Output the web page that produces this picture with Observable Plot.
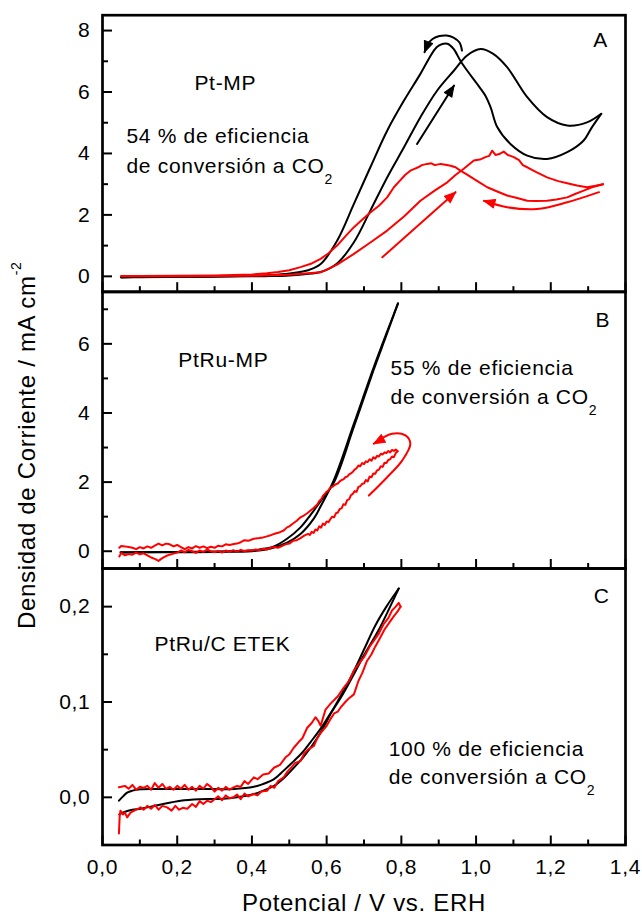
<!DOCTYPE html>
<html><head><meta charset="utf-8">
<script src="https://cdn.jsdelivr.net/npm/d3@7"></script>
<script src="https://cdn.jsdelivr.net/npm/@observablehq/plot@0.6"></script>
<style>
html,body{margin:0;padding:0;background:#fff;}
#chart{position:relative;width:642px;height:917px;overflow:hidden;background:#fff;}
#chart svg{position:absolute;left:0;top:0;background:transparent !important;font-family:'Liberation Sans',Arial,Helvetica,sans-serif;font-size:21px;color:#000;}
#chart svg text{letter-spacing:0.7px;}
</style></head><body><div id="chart"></div>
<script>
// ---------- axis ticks ----------
const xMajor = [0, 0.2, 0.4, 0.6, 0.8, 1.0, 1.2, 1.4];
const xMinor = [0.1, 0.3, 0.5, 0.7, 0.9, 1.1, 1.3];
const yMajorA = [0, 2, 4, 6, 8], yMinorA = [1, 3, 5, 7];
const yMajorB = [0, 2, 4, 6], yMinorB = [1, 3, 5, 7];
const yMajorC = [0, 0.1, 0.2], yMinorC = [0.05, 0.15];
const xLabel = "Potencial / V vs. ERH";
const yLabel = "Densidad de Corriente / mA cm-2";

// ---------- Panel A: Pt-MP (potential V, current mA cm-2) ----------
const blackA_forward = [[0.05,-0.04],[0.1,-0.03],[0.2,-0.02],[0.3,-0.01],[0.4,0.0],[0.45,0.01],[0.5,0.03],[0.54,0.07],[0.584,0.14],[0.628,0.42],[0.673,1.11],[0.717,2.14],[0.762,3.22],[0.807,4.20],[0.851,5.18],[0.896,6.05],[0.941,6.70],[0.976,7.19],[1.012,7.40],[1.045,7.25],[1.083,6.81],[1.137,5.83],[1.19,5.18],[1.244,4.91],[1.297,5.01],[1.335,5.29]];
const blackA_reverse = [[1.335,5.29],[1.31,4.85],[1.288,4.42],[1.244,4.04],[1.19,3.82],[1.137,3.93],[1.092,4.31],[1.057,4.85],[1.039,5.50],[1.025,5.88],[1.003,6.26],[0.976,6.70],[0.958,7.02],[0.94,7.40],[0.923,7.57],[0.90,7.51],[0.887,7.35],[0.851,6.59],[0.807,5.72],[0.762,4.74],[0.717,3.55],[0.673,2.36],[0.628,1.16],[0.584,0.40],[0.55,0.2],[0.5,0.09],[0.45,0.04],[0.4,0.02],[0.3,0.0],[0.2,-0.01],[0.1,-0.02],[0.05,-0.03]];
const redA_forward = [[0.05,0.0],[0.2,0.0],[0.3,0.01],[0.4,0.02],[0.5,0.05],[0.584,0.13],[0.628,0.38],[0.673,0.73],[0.717,1.1],[0.762,1.49],[0.807,1.95],[0.851,2.46],[0.89,2.8],[0.923,3.06],[0.945,3.3],[0.967,3.5],[0.985,3.68],[0.994,3.77],[1.01,3.8],[1.025,3.88],[1.035,3.92],[1.043,4.09],[1.052,3.95],[1.062,3.98],[1.074,4.06],[1.085,3.95],[1.101,3.88],[1.115,3.78],[1.125,3.62],[1.137,3.55],[1.16,3.4],[1.19,3.22],[1.22,3.1],[1.244,3.03],[1.27,2.96],[1.297,2.9],[1.32,2.95],[1.34,3.0]];
const redA_reverse = [[1.34,3.0],[1.31,2.9],[1.288,2.79],[1.265,2.68],[1.244,2.57],[1.215,2.5],[1.19,2.46],[1.16,2.45],[1.137,2.46],[1.11,2.55],[1.083,2.63],[1.055,2.77],[1.03,2.9],[1.01,3.05],[0.994,3.17],[0.975,3.32],[0.958,3.44],[0.945,3.55],[0.932,3.6],[0.918,3.63],[0.905,3.66],[0.89,3.62],[0.88,3.68],[0.869,3.66],[0.855,3.62],[0.845,3.55],[0.835,3.5],[0.824,3.44],[0.81,3.3],[0.795,3.1],[0.78,2.9],[0.762,2.57],[0.74,2.3],[0.717,2.08],[0.695,1.84],[0.673,1.6],[0.65,1.3],[0.628,1.0],[0.605,0.75],[0.584,0.57],[0.56,0.42],[0.53,0.3],[0.5,0.2],[0.47,0.14],[0.44,0.1],[0.4,0.06],[0.3,0.03],[0.2,0.02],[0.1,0.01],[0.05,0.01]];
const arrowsA = [
  {color: "#000", path: [[0.842,4.31],[0.941,6.21]]},
  {color: "#000", path: [[0.9623,7.349],[0.9557,7.61],[0.9396,7.773],[0.9208,7.838],[0.9021,7.822],[0.8834,7.724],[0.870,7.545],[0.862,7.294]]},
  {color: "#ff0000", path: [[0.749,0.62],[0.945,2.74]]},
  {color: "#ff0000", path: [[1.329,2.74],[1.244,2.41],[1.163,2.19],[1.083,2.25],[1.021,2.46]]}
];
const textsA = [
  {v: 0.246, j: 6.05, t: "Pt-MP"},
  {v: 0.064, j: 4.35, t: "54 % de eficiencia"},
  {v: 0.064, j: 3.37, t: "de conversión a CO2"},
  {v: 1.314, j: 7.48, t: "A"}
];

// ---------- Panel B: PtRu-MP ----------
const blackB_forward = [[0.05,-0.04],[0.1,-0.03],[0.2,-0.03],[0.3,-0.02],[0.4,0.0],[0.45,0.08],[0.494,0.25],[0.53,0.5],[0.566,0.95],[0.584,1.3],[0.619,2.05],[0.673,3.69],[0.726,5.32],[0.76,6.3],[0.791,7.17]];
const blackB_reverse = [[0.791,7.17],[0.76,6.25],[0.726,5.25],[0.673,3.6],[0.619,1.98],[0.584,1.45],[0.557,1.05],[0.53,0.69],[0.494,0.36],[0.459,0.14],[0.42,0.05],[0.396,0.02],[0.3,-0.01],[0.2,-0.02],[0.1,-0.03],[0.048,-0.03]];
const redB_forward = [[0.045,-0.15],[0.05,-0.05],[0.06,-0.12],[0.07,-0.08],[0.08,-0.1],[0.09,-0.04],[0.1,-0.09],[0.11,-0.06],[0.12,-0.12],[0.13,-0.18],[0.14,-0.22],[0.15,-0.28],[0.16,-0.2],[0.17,-0.14],[0.18,-0.1],[0.19,-0.07],[0.2,-0.04],[0.21,0.02],[0.22,-0.03],[0.23,0.04],[0.24,0.0],[0.25,-0.05],[0.26,0.02],[0.27,-0.02],[0.28,0.05],[0.29,0.0],[0.3,-0.03],[0.31,0.01],[0.32,-0.04],[0.33,0.02],[0.34,-0.02],[0.35,0.03],[0.36,-0.01],[0.37,0.04],[0.38,0.0],[0.39,0.03],[0.4,0.02],[0.41,0.05],[0.42,0.03],[0.43,0.07],[0.44,0.05],[0.45,0.1],[0.46,0.12],[0.47,0.1],[0.48,0.15],[0.49,0.2],[0.5,0.22],[0.51,0.3],[0.52,0.32],[0.53,0.38],[0.54,0.45],[0.55,0.5],[0.555,0.47],[0.56,0.56],[0.565,0.53],[0.57,0.63],[0.575,0.6],[0.58,0.72],[0.585,0.68],[0.59,0.8],[0.595,0.76],[0.6,0.86],[0.605,0.84],[0.61,0.93],[0.615,1.0],[0.62,0.98],[0.625,1.1],[0.63,1.12],[0.635,1.22],[0.64,1.24],[0.645,1.36],[0.65,1.34],[0.655,1.48],[0.66,1.5],[0.665,1.62],[0.67,1.66],[0.675,1.74],[0.68,1.72],[0.685,1.86],[0.69,1.88],[0.695,1.95],[0.7,1.96],[0.705,2.06],[0.71,2.02],[0.715,2.16],[0.72,2.14],[0.725,2.25],[0.73,2.24],[0.735,2.34],[0.74,2.36],[0.745,2.46],[0.75,2.44],[0.755,2.56],[0.76,2.55],[0.765,2.64],[0.77,2.66],[0.775,2.74],[0.78,2.72],[0.785,2.84],[0.79,2.89]];
const redB_reverse = [[0.79,2.89],[0.785,2.94],[0.78,2.9],[0.775,2.93],[0.77,2.86],[0.765,2.9],[0.76,2.84],[0.755,2.86],[0.75,2.8],[0.745,2.82],[0.74,2.74],[0.735,2.76],[0.73,2.68],[0.725,2.72],[0.72,2.62],[0.715,2.66],[0.71,2.58],[0.705,2.6],[0.7,2.52],[0.695,2.55],[0.69,2.46],[0.685,2.48],[0.68,2.4],[0.675,2.36],[0.67,2.3],[0.665,2.25],[0.66,2.22],[0.655,2.16],[0.65,2.14],[0.645,2.08],[0.64,2.06],[0.635,2.02],[0.63,1.96],[0.625,1.94],[0.62,1.9],[0.615,1.86],[0.61,1.84],[0.605,1.76],[0.6,1.72],[0.595,1.66],[0.59,1.6],[0.585,1.5],[0.58,1.45],[0.575,1.35],[0.565,1.25],[0.557,1.18],[0.548,1.1],[0.54,1.04],[0.53,0.98],[0.52,0.88],[0.51,0.8],[0.5,0.72],[0.494,0.69],[0.485,0.6],[0.475,0.55],[0.465,0.52],[0.459,0.5],[0.45,0.46],[0.44,0.43],[0.43,0.4],[0.42,0.38],[0.405,0.36],[0.39,0.3],[0.38,0.32],[0.37,0.26],[0.36,0.22],[0.352,0.21],[0.34,0.18],[0.33,0.2],[0.32,0.14],[0.31,0.16],[0.3,0.1],[0.29,0.13],[0.28,0.09],[0.27,0.14],[0.26,0.1],[0.25,0.15],[0.24,0.08],[0.23,0.12],[0.22,0.06],[0.21,0.12],[0.2,0.18],[0.19,0.14],[0.18,0.2],[0.17,0.22],[0.16,0.17],[0.15,0.22],[0.14,0.16],[0.13,0.1],[0.12,0.14],[0.11,0.08],[0.1,0.12],[0.09,0.06],[0.08,0.1],[0.07,0.12],[0.06,0.14],[0.05,0.15],[0.045,0.1]];
const arrowsB = [
  {color: "#ff0000", path: [[0.713,1.61],[0.762,2.14],[0.802,2.62],[0.824,3.11],[0.811,3.35],[0.775,3.40],[0.726,3.11]]}
];
const textsB = [
  {v: 0.203, j: 5.34, t: "PtRu-MP"},
  {v: 0.771, j: 5.11, t: "55 % de eficiencia"},
  {v: 0.771, j: 4.26, t: "de conversión a CO2"},
  {v: 1.32, j: 6.48, t: "B"}
];

// ---------- Panel C: PtRu/C ETEK ----------
const blackC_forward = [[0.045,-0.018],[0.057,-0.0157],[0.08,-0.013],[0.102,-0.012],[0.15,-0.008],[0.209,-0.0035],[0.26,-0.002],[0.316,-0.0017],[0.36,0.0],[0.405,0.0035],[0.43,0.007],[0.459,0.012],[0.485,0.02],[0.512,0.031],[0.535,0.041],[0.557,0.052],[0.584,0.068],[0.61,0.087],[0.637,0.106],[0.67,0.13],[0.7,0.155],[0.73,0.18],[0.76,0.2],[0.793,0.219]];
const blackC_reverse = [[0.793,0.219],[0.77,0.2],[0.74,0.176],[0.7,0.149],[0.67,0.127],[0.637,0.104],[0.61,0.088],[0.584,0.072],[0.557,0.058],[0.535,0.047],[0.512,0.038],[0.485,0.028],[0.459,0.019],[0.43,0.014],[0.405,0.011],[0.351,0.0088],[0.262,0.0088],[0.15,0.0088],[0.102,0.0085],[0.08,0.007],[0.066,0.005],[0.055,0.001],[0.044,-0.0035]];
const redC_forward = [[0.044,-0.038],[0.046,-0.02],[0.048,-0.014],[0.055,-0.018],[0.06,-0.016],[0.066,-0.021],[0.075,-0.016],[0.085,-0.014],[0.095,-0.012],[0.102,-0.0105],[0.11,-0.013],[0.12,-0.009],[0.13,-0.012],[0.14,-0.008],[0.15,-0.013],[0.16,-0.009],[0.173,-0.0105],[0.185,-0.014],[0.195,-0.009],[0.205,-0.013],[0.215,-0.011],[0.227,-0.012],[0.24,-0.007],[0.25,-0.01],[0.26,-0.004],[0.27,-0.007],[0.28,-0.0035],[0.29,-0.005],[0.3,-0.002],[0.31,0.001],[0.32,-0.003],[0.33,0.002],[0.34,-0.001],[0.351,0.0],[0.36,0.003],[0.37,-0.002],[0.38,0.004],[0.39,0.001],[0.405,0.0035],[0.415,0.002],[0.425,0.006],[0.441,0.007],[0.45,0.012],[0.46,0.01],[0.47,0.017],[0.485,0.021],[0.495,0.027],[0.505,0.031],[0.515,0.036],[0.53,0.038],[0.54,0.046],[0.55,0.05],[0.566,0.054],[0.575,0.062],[0.585,0.068],[0.6,0.075],[0.61,0.082],[0.62,0.088],[0.63,0.09],[0.637,0.094],[0.65,0.1],[0.66,0.104],[0.673,0.108],[0.685,0.122],[0.695,0.13],[0.708,0.143],[0.72,0.15],[0.73,0.158],[0.744,0.168],[0.755,0.176],[0.771,0.185],[0.78,0.19],[0.79,0.195],[0.798,0.2]];
const redC_reverse = [[0.798,0.2],[0.793,0.204],[0.785,0.2],[0.775,0.196],[0.765,0.188],[0.753,0.182],[0.74,0.172],[0.726,0.164],[0.715,0.158],[0.7,0.147],[0.69,0.142],[0.673,0.133],[0.66,0.122],[0.646,0.115],[0.63,0.106],[0.61,0.098],[0.597,0.092],[0.584,0.075],[0.578,0.08],[0.57,0.084],[0.56,0.078],[0.548,0.073],[0.535,0.062],[0.525,0.058],[0.512,0.052],[0.5,0.045],[0.49,0.042],[0.475,0.034],[0.459,0.031],[0.445,0.025],[0.43,0.024],[0.415,0.019],[0.405,0.021],[0.39,0.014],[0.38,0.017],[0.37,0.011],[0.36,0.012],[0.351,0.0105],[0.34,0.008],[0.33,0.011],[0.32,0.007],[0.31,0.01],[0.3,0.006],[0.29,0.011],[0.28,0.014],[0.27,0.009],[0.26,0.012],[0.25,0.007],[0.24,0.011],[0.23,0.008],[0.22,0.013],[0.21,0.009],[0.2,0.012],[0.19,0.008],[0.18,0.011],[0.17,0.009],[0.16,0.014],[0.15,0.01],[0.14,0.015],[0.13,0.008],[0.12,0.012],[0.11,0.01],[0.1,0.011],[0.09,0.008],[0.08,0.013],[0.07,0.009],[0.06,0.012],[0.05,0.011],[0.044,0.0105]];
const textsC = [
  {v: 0.139, j: 0.1536, t: "PtRu/C ETEK"},
  {v: 0.766, j: 0.0437, t: "100 % de eficiencia"},
  {v: 0.766, j: 0.014, t: "de conversión a CO2"},
  {v: 1.315, j: 0.204, t: "C"}
];

// ---------- layout ----------
const W = 642, H = 917, L = 102, R = 17;
const BLACK = "#000", RED = "#ff0000";
const toRows = (pairs) => pairs.map(([v, j]) => ({v, j}));
const fmtComma = (d) => d.toFixed(1).replace(".", ",");
const fmtInt = (d) => String(d);
const headShape = {draw(ctx, l) { ctx.moveTo(0, -l); ctx.lineTo(-l * 0.4, 0); ctx.lineTo(l * 0.4, 0); ctx.closePath(); }};

function panel(cfg) {
  const {top, bottom, yDomain, yMajor, yMinor, yFormat, black, red, arrows, texts, showX, extraMarks = []} = cfg;
  const h = bottom - top, w = W - L - R;
  const sx = Plot.scale({x: {domain: [0, 1.4], range: [L, W - R]}});
  const sy = Plot.scale({y: {domain: yDomain, range: [bottom, top]}});
  const heads = arrows.map(({color, path}) => {
    const n = path.length, [x1, y1] = path[n - 2], [x2, y2] = path[n - 1];
    const dx = sx.apply(x2) - sx.apply(x1), dy = sy.apply(y2) - sy.apply(y1);
    return {v: x2, j: y2, color, angle: Math.atan2(dx, -dy) * 180 / Math.PI};
  });
  const marks = [];
  for (const s of black) marks.push(Plot.line(toRows(s), {x: "v", y: "j", stroke: BLACK, strokeWidth: 2, curve: "catmull-rom"}));
  for (const s of red) marks.push(Plot.line(toRows(s), {x: "v", y: "j", stroke: RED, strokeWidth: 2, curve: "linear"}));
  for (const a of arrows) marks.push(Plot.line(toRows(a.path), {x: "v", y: "j", stroke: a.color, strokeWidth: 2, curve: "catmull-rom"}));
  marks.push(Plot.vector(heads, {x: "v", y: "j", rotate: "angle", length: 11, anchor: "end", shape: headShape, fill: "color", stroke: "color", strokeWidth: 1}));
  marks.push(Plot.text(texts, {x: "v", y: "j", text: "t", textAnchor: "start", lineAnchor: "bottom", fontSize: 21, fill: BLACK}));
  marks.push(Plot.ruleX(xMajor, {x: (d) => d, insetTop: h - 9, stroke: BLACK, strokeWidth: 2}));
  marks.push(Plot.ruleX(xMinor, {x: (d) => d, insetTop: h - 5, stroke: BLACK, strokeWidth: 2}));
  marks.push(Plot.ruleY(yMajor, {y: (d) => d, insetRight: w - 10, stroke: BLACK, strokeWidth: 2}));
  marks.push(Plot.ruleY(yMinor, {y: (d) => d, insetRight: w - 6, stroke: BLACK, strokeWidth: 2}));
  marks.push(Plot.frame({stroke: BLACK, strokeWidth: 2.7}));
  marks.push(...extraMarks);
  const svg = Plot.plot({
    width: W, height: H,
    marginLeft: L, marginRight: R, marginTop: top, marginBottom: H - bottom,
    style: {background: "transparent", overflow: "visible"},
    x: {domain: [0, 1.4], ticks: xMajor, tickSize: 0, tickPadding: 14, tickFormat: fmtComma, label: null, axis: showX ? "bottom" : null},
    y: {domain: yDomain, ticks: yMajor, tickSize: 0, tickPadding: 12, tickFormat: yFormat, label: null},
    marks
  });
  // chemical subscripts / unit superscript as real text
  svg.querySelectorAll("text").forEach((el) => {
    if (el.children.length) return;
    const s = el.textContent;
    if (s.endsWith("CO2")) {
      el.textContent = s.slice(0, -1);
      const t = document.createElementNS("http://www.w3.org/2000/svg", "tspan");
      t.setAttribute("font-size", "14"); t.setAttribute("dy", "11"); t.textContent = "2";
      el.appendChild(t);
    } else if (s === yLabel) {
      el.textContent = s.slice(0, -2);
      const t = document.createElementNS("http://www.w3.org/2000/svg", "tspan");
      t.setAttribute("font-size", "14"); t.setAttribute("dy", "-14"); t.textContent = "-2";
      el.appendChild(t);
    }
  });
  return svg;
}

const chart = document.getElementById("chart");
chart.appendChild(panel({
  top: 14.7, bottom: 291.2, yDomain: [-0.5, 8.5], yMajor: yMajorA, yMinor: yMinorA, yFormat: fmtInt,
  black: [blackA_forward, blackA_reverse], red: [redA_forward, redA_reverse], arrows: arrowsA, texts: textsA, showX: false
}));
chart.appendChild(panel({
  top: 291.5, bottom: 568, yDomain: [-0.5, 7.5], yMajor: yMajorB, yMinor: yMinorB, yFormat: fmtInt,
  black: [blackB_forward, blackB_reverse], red: [redB_forward, redB_reverse], arrows: arrowsB, texts: textsB, showX: false,
  extraMarks: [Plot.text([yLabel], {text: (d) => d, frameAnchor: "left", dx: -75, dy: 15, rotate: -90, textAnchor: "middle", lineAnchor: "middle", fontSize: 24, fill: BLACK})]
}));
chart.appendChild(panel({
  top: 568, bottom: 844.5, yDomain: [-0.05, 0.24], yMajor: yMajorC, yMinor: yMinorC, yFormat: fmtComma,
  black: [blackC_forward, blackC_reverse], red: [redC_forward, redC_reverse], arrows: [], texts: textsC, showX: true,
  extraMarks: [Plot.text([xLabel], {text: (d) => d, frameAnchor: "bottom", dy: 66, textAnchor: "middle", lineAnchor: "bottom", fontSize: 24, fill: BLACK})]
}));
</script></body></html>
